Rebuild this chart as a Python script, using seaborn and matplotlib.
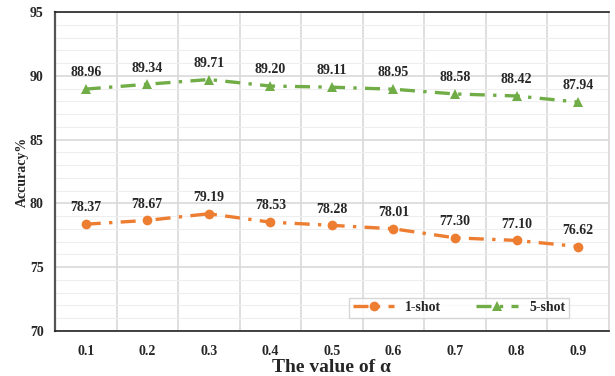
import numpy as np
import pandas as pd
import seaborn as sns
import matplotlib.pyplot as plt
from matplotlib.ticker import MultipleLocator

# values
alphas = ['0.1', '0.2', '0.3', '0.4', '0.5', '0.6', '0.7', '0.8', '0.9']
one_shot = [78.37, 78.67, 79.19, 78.53, 78.28, 78.01, 77.30, 77.10, 76.62]
five_shot = [88.96, 89.34, 89.71, 89.20, 89.11, 88.95, 88.58, 88.42, 87.94]

sns.set_theme(style='white')
plt.rcParams['font.family'] = ['Liberation Serif', 'DejaVu Serif']
plt.rcParams['font.weight'] = 'bold'

pos = np.arange(len(alphas))
df = pd.DataFrame({'pos': np.concatenate([pos, pos]),
                   'acc': one_shot + five_shot,
                   'series': ['1-shot'] * len(alphas) + ['5-shot'] * len(alphas)})

fig = plt.figure(figsize=(6.15, 3.76), dpi=100)
ax = fig.add_axes([0.0894, 0.1197, 0.9006, 0.8483])

colors = {'1-shot': '#ED7D31', '5-shot': '#70AD47'}
markers = {'1-shot': 'o', '5-shot': '^'}
for name in ['1-shot', '5-shot']:
    sub = df[df['series'] == name]
    sns.lineplot(data=sub, x='pos', y='acc', ax=ax, color=colors[name],
                 marker=markers[name], markersize=7, markeredgewidth=0,
                 linewidth=2.4, dashes=False, label=name)
    ax.lines[-1].set_dashes([4.5, 2.5, 1, 2.5])
    for x, y in zip(sub['pos'], sub['acc']):
        ax.annotate(f'{y:.2f}', (x, y), xytext=(0, 7), textcoords='offset points',
                    ha='center', va='bottom', fontsize=10, fontweight='bold')

ax.set_xlim(-0.5, len(alphas) - 0.5)
ax.set_ylim(70, 95)
ax.set_xticks(pos)
ax.set_xticklabels(alphas)
ax.yaxis.set_major_locator(MultipleLocator(5))
ax.yaxis.set_minor_locator(MultipleLocator(1))

# gridlines: vertical at category boundaries, major + minor horizontal
ax.set_xticks(pos[:-1] + 0.5, minor=True)
ax.grid(which='major', axis='y', color='#D9D9D9', linewidth=1.2)
ax.grid(which='minor', axis='y', color='#EEEEEE', linewidth=0.8)
ax.grid(which='minor', axis='x', color='#D9D9D9', linewidth=1.2)
ax.set_axisbelow(True)

ax.tick_params(axis='both', which='both', length=0, labelsize=10)
ax.tick_params(axis='x', pad=10)
ax.tick_params(axis='y', pad=8)
for lab in ax.get_xticklabels() + ax.get_yticklabels():
    lab.set_fontweight('bold')

for side in ['top', 'bottom']:
    ax.spines[side].set_color('#222222')
    ax.spines[side].set_linewidth(1.2)
ax.spines['left'].set_color('#555555')
ax.spines['left'].set_linewidth(1.6)
ax.spines['right'].set_color('#D9D9D9')

ax.set_xlabel('The value of α', fontsize=14, fontweight='bold', labelpad=1)
ax.set_ylabel('Accuracy%', fontsize=10, fontweight='bold', labelpad=1)

leg = ax.legend(loc='lower right', bbox_to_anchor=(0.94, 0.02), ncol=2,
                fontsize=10, frameon=True, fancybox=False, handlelength=3.0,
                columnspacing=2.5, borderpad=0.25)
leg.get_frame().set_edgecolor('#CCCCCC')
leg.get_frame().set_linewidth(1)
for t in leg.get_texts():
    t.set_fontweight('bold')

fig.savefig('out.png', dpi=100)
